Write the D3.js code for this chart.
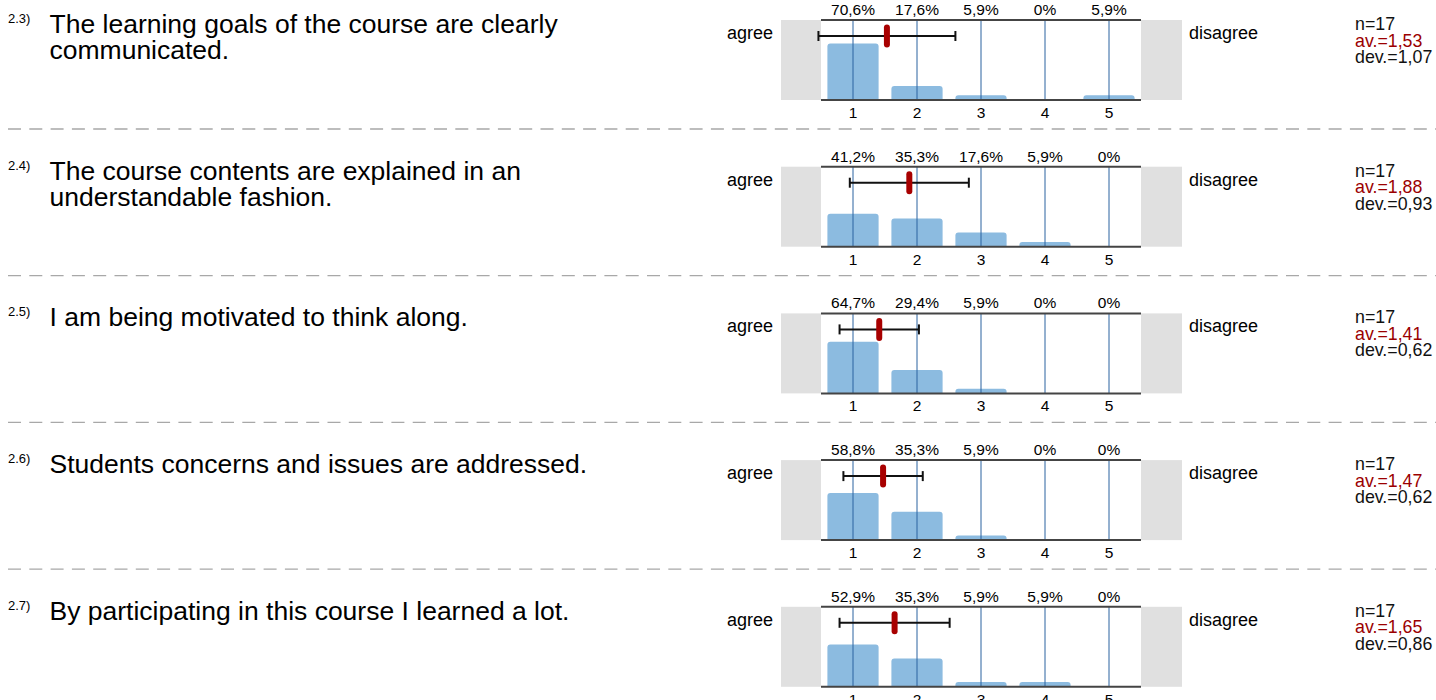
<!DOCTYPE html>
<html>
<head>
<meta charset="utf-8">
<script src="https://cdn.jsdelivr.net/npm/d3@7"></script>
<style>
  html, body { margin: 0; padding: 0; background: #fff; }
  svg { display: block; font-family: "Liberation Sans", Arial, sans-serif; }
</style>
</head>
<body>
<div id="chart"></div>
<script>
// --- data read from the survey sheet ---
const questionNums = ["2.3)", "2.4)", "2.5)", "2.6)", "2.7)"];
const questionLines = [
    ["The learning goals of the course are clearly", "communicated."],
    ["The course contents are explained in an", "understandable fashion."],
    ["I am being motivated to think along."],
    ["Students concerns and issues are addressed."],
    ["By participating in this course I learned a lot."]
];
const scaleValues = [1, 2, 3, 4, 5];
const percents = [
    [70.6, 17.6, 5.9, 0, 5.9],
    [41.2, 35.3, 17.6, 5.9, 0],
    [64.7, 29.4, 5.9, 0, 0],
    [58.8, 35.3, 5.9, 0, 0],
    [52.9, 35.3, 5.9, 5.9, 0]
];
const nValues = [17, 17, 17, 17, 17];
const means = [1.53, 1.88, 1.41, 1.47, 1.65];
const devs = [1.07, 0.93, 0.62, 0.62, 0.86];
const leftLabel = "agree", rightLabel = "disagree";

// --- layout ---
const W = 1436, H = 700;
const rowTop0 = 20, rowStep = 146.7, plotH = 80;
const plotX0 = 821, plotX1 = 1141, boxW = 40;

const comma = (v, p) => d3.format("." + p + "f")(v).replace(".", ",");
const pctText = v => v === 0 ? "0%" : comma(v, 1) + "%";

const svg = d3.select("#chart").append("svg").attr("width", W).attr("height", H);

const xBand = d3.scaleBand().domain(scaleValues).range([plotX0, plotX1]).paddingInner(0.2).paddingOuter(0.1);
const xLin = d3.scaleLinear().domain([1, 5]).range([xBand(1) + xBand.bandwidth() / 2, xBand(5) + xBand.bandwidth() / 2]);
const centre = v => xBand(v) + xBand.bandwidth() / 2;

questionNums.forEach((num, i) => {
    const top = rowTop0 + i * rowStep;
    const y = d3.scaleLinear().domain([0, 100]).range([top + plotH, top]);
    const g = svg.append("g");

    // question
    g.append("text").attr("x", 8).attr("y", top + 3).attr("font-size", 13).text(num);
    g.append("text").attr("font-size", 26.5).selectAll("tspan").data(questionLines[i]).join("tspan")
        .attr("x", 49.5).attr("y", (d, k) => top + 13 + k * 26).text(d => d);

    // grey end boxes
    g.append("rect").attr("x", plotX0 - boxW).attr("y", top).attr("width", boxW).attr("height", plotH).attr("fill", "#e0e0e0");
    g.append("rect").attr("x", plotX1).attr("y", top).attr("width", boxW + 1).attr("height", plotH).attr("fill", "#e0e0e0");

    // bars
    g.selectAll(".bar").data(percents[i]).join("rect").attr("class", "bar")
        .attr("x", (d, k) => xBand(scaleValues[k]))
        .attr("width", xBand.bandwidth())
        .attr("y", d => y(d))
        .attr("height", d => Math.max(0, top + plotH - y(d) + 3))
        .attr("rx", 3)
        .attr("fill", "#8cbbe0")
        .attr("display", d => d > 0 ? null : "none");
    // cover the rounded bottom corners
    g.append("rect").attr("x", plotX0).attr("y", top + plotH).attr("width", plotX1 - plotX0).attr("height", 4).attr("fill", "#fff");

    // grid lines
    g.selectAll(".grid").data(scaleValues).join("line").attr("class", "grid")
        .attr("x1", centre).attr("x2", centre).attr("y1", top).attr("y2", top + plotH)
        .attr("stroke", "#2b63a0").attr("stroke-width", 1);

    // top / bottom rules
    [top, top + plotH].forEach(yy => {
        g.append("line").attr("x1", plotX0).attr("x2", plotX1).attr("y1", yy).attr("y2", yy)
            .attr("stroke", "#444").attr("stroke-width", 2);
    });

    // percentages
    g.selectAll(".pct").data(percents[i]).join("text").attr("class", "pct")
        .attr("x", (d, k) => centre(scaleValues[k])).attr("y", top - 5)
        .attr("text-anchor", "middle").attr("font-size", 15.5).text(pctText);

    // tick labels
    g.selectAll(".tick").data(scaleValues).join("text").attr("class", "tick")
        .attr("x", centre).attr("y", top + plotH + 18)
        .attr("text-anchor", "middle").attr("font-size", 15.5).text(d => d);

    // mean +- deviation
    const ey = top + 16;
    const lo = xLin(means[i] - devs[i]), hi = xLin(means[i] + devs[i]);
    g.append("line").attr("x1", lo).attr("x2", hi).attr("y1", ey).attr("y2", ey).attr("stroke", "#111").attr("stroke-width", 2);
    [lo, hi].forEach(xx => {
        g.append("line").attr("x1", xx).attr("x2", xx).attr("y1", ey - 5).attr("y2", ey + 5).attr("stroke", "#111").attr("stroke-width", 2);
    });
    g.append("rect").attr("x", xLin(means[i]) - 3).attr("y", ey - 11.5).attr("width", 6).attr("height", 23)
        .attr("rx", 3).attr("fill", "#a80000");

    // pole labels
    g.append("text").attr("x", 773).attr("y", top + 19).attr("text-anchor", "end").attr("font-size", 18).text(leftLabel);
    g.append("text").attr("x", 1189).attr("y", top + 19).attr("font-size", 18).text(rightLabel);

    // stats
    const st = g.append("text").attr("font-size", 17.8);
    st.append("tspan").attr("x", 1355).attr("y", top + 10).attr("fill", "#111").text("n=" + nValues[i]);
    st.append("tspan").attr("x", 1355).attr("y", top + 26.5).attr("fill", "#9b0000").text("av.=" + comma(means[i], 2));
    st.append("tspan").attr("x", 1355).attr("y", top + 43).attr("fill", "#111").text("dev.=" + comma(devs[i], 2));

    // dashed separator
    if (i < questionNums.length - 1) {
        g.append("line").attr("x1", 8).attr("x2", W).attr("y1", top + 109).attr("y2", top + 109)
            .attr("stroke", "#a8a8a8").attr("stroke-width", 1.3).attr("stroke-dasharray", "13,8.3");
    }
});
</script>
</body>
</html>
